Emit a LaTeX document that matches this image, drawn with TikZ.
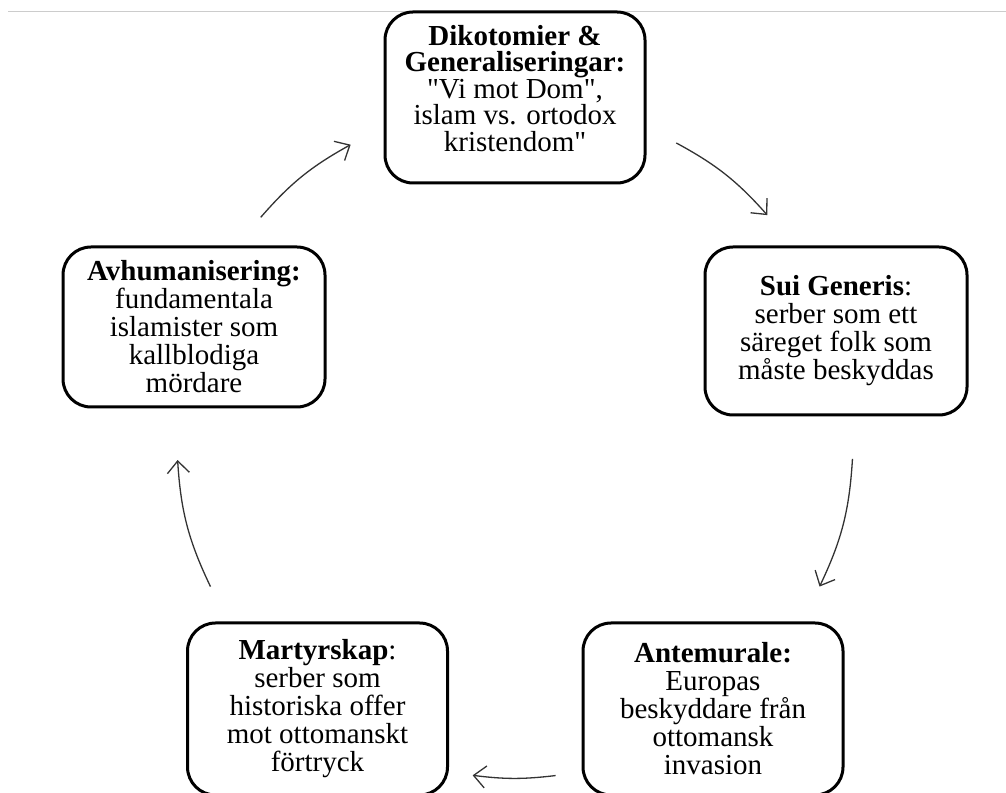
\documentclass[tikz,border=0pt]{standalone}
\usepackage{fontspec}
\setmainfont{Liberation Serif}[Ligatures=TeXOff]
\usetikzlibrary{arrows.meta,calc}

\tikzset{
  stage/.style={draw, line width=3pt, rounded corners=28pt, fill=white,
    align=center, inner sep=4pt, minimum width=260pt,
    font=\fontsize{29}{28}\selectfont},
  cycarrow/.style={draw=black!80, line width=1.3pt,
    -{Straight Barb[length=12pt,width=22pt,line width=1.3pt]}},
}

\begin{document}
\begin{tikzpicture}[x=1pt, y=1pt]
  \clip (0,0) rectangle (1006,792);
  % thin rule along the top
  \draw[black!20, line width=1pt] (8,780) -- (1006,780);

  % the five stages
  \node[stage, minimum height=171pt, font=\fontsize{29}{26.5}\selectfont, text depth=19pt]
    (dikotomi) at (515,694.5)
    {\textbf{Dikotomier \&}\\ \textbf{Generaliseringar:}\\ "Vi mot Dom",\\ islam vs. ortodox\\ kristendom"};
  \node[stage, minimum width=262pt, minimum height=168pt] (generis) at (836,461)
    {\textbf{Sui Generis}:\\ serber som ett\\ säreget folk som\\ måste beskyddas};
  \node[stage, minimum height=172pt] (antemurale) at (713,83)
    {\textbf{Antemurale:}\\ Europas\\ beskyddare från\\ ottomansk\\ invasion};
  \node[stage, minimum height=172pt] (martyr) at (317.5,83)
    {\textbf{Martyrskap}:\\ serber som\\ historiska offer\\ mot ottomanskt\\ förtryck};
  \node[stage, minimum width=262pt, minimum height=160pt] (avhuman) at (194,465)
    {\textbf{Avhumanisering:}\\ fundamentala\\ islamister som\\ kallblodiga\\ mördare};

  % arrow ends lie on one circle round the centre
  \coordinate (ctr) at (515,352);
  \coordinate (a1) at ($(ctr)+(61.5:338)$);
  \coordinate (b1) at ($(ctr)+(41.7:338)$);
  \coordinate (a2) at ($(ctr)+(-3.2:338)$);
  \coordinate (b2) at ($(ctr)+(-25.7:338)$);
  \coordinate (a3) at ($(ctr)+(-83.1:338)$);
  \coordinate (b3) at ($(ctr)+(-97.2:338)$);
  \coordinate (a4) at ($(ctr)+(205.7:338)$);
  \coordinate (b4) at ($(ctr)+(183.4:338)$);
  \coordinate (a5) at ($(ctr)+(138.8:338)$);
  \coordinate (b5) at ($(ctr)+(119.1:338)$);

  \draw[cycarrow] (a1) to[bend left=10] (b1);
  \draw[cycarrow] (a2) to[bend left=11] (b2);
  \draw[cycarrow] (a3) to[bend left=7] (b3);
  \draw[cycarrow] (a4) to[bend left=11] (b4);
  \draw[cycarrow] (a5) to[bend left=10] (b5);
\end{tikzpicture}
\end{document}
